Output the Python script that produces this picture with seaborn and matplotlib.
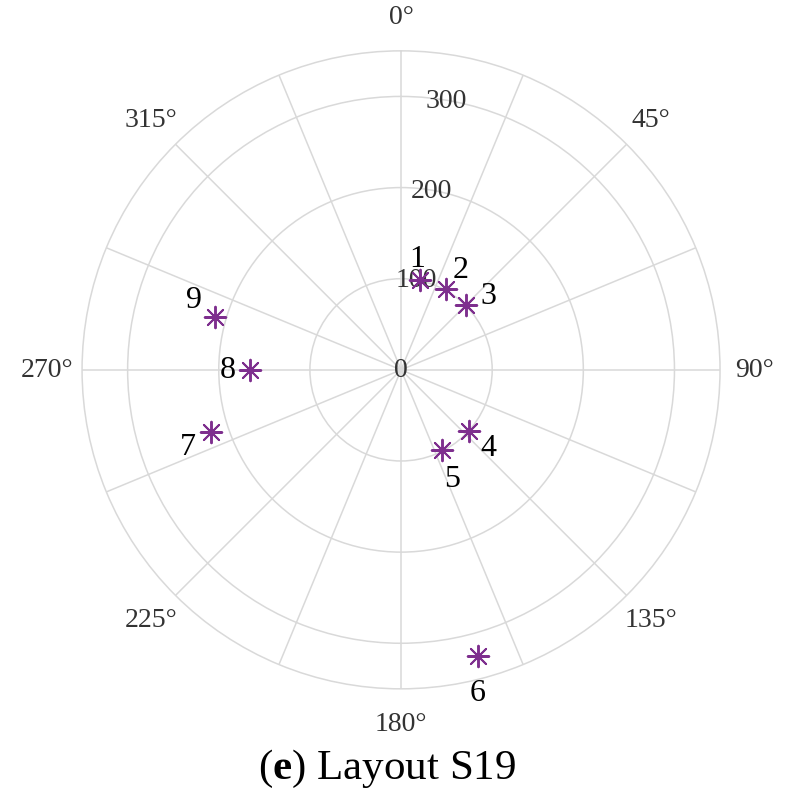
import numpy as np
import pandas as pd
import matplotlib
matplotlib.use("Agg")
import matplotlib.pyplot as plt
import seaborn as sns

# Point angles (deg, clockwise from north) and radii
labels = ["1", "2", "3", "4", "5", "6", "7", "8", "9"]
angles_deg = [12, 29, 45, 132, 153, 165, 252, 270, 286]
radii = [101, 101, 101, 100, 99, 325, 219, 166, 212]

r_ticks = [0, 100, 200, 300]
r_max = 350
theta_labels = ["0°", "45°", "90°", "135°", "180°", "225°", "270°", "315°"]

sns.set_theme(style="white")
plt.rcParams["font.family"] = ["Liberation Serif", "DejaVu Serif"]
plt.rcParams["mathtext.fontset"] = "custom"
plt.rcParams["mathtext.bf"] = "Liberation Serif:bold"
plt.rcParams["mathtext.rm"] = "Liberation Serif"

df = pd.DataFrame({"label": labels,
                   "theta": np.deg2rad(angles_deg),
                   "r": radii})

fig = plt.figure(figsize=(7.89, 8.04), dpi=100)
ax = fig.add_axes([0.104, 0.142, 0.8086, 0.7935], projection="polar")
ax.set_theta_zero_location("N")
ax.set_theta_direction(-1)

grid_c = "#d9d9d9"
sns.scatterplot(data=df, x="theta", y="r", ax=ax, marker=(8, 2, 0),
                s=240, color="#7E2F8E", linewidth=1.4, zorder=3)

# point labels
offsets = {"1": (-2, 15), "2": (11, 14), "3": (16, 7), "4": (14, -12),
           "5": (7, -20), "6": (0, -26), "7": (-17, -11), "8": (-16, 0),
           "9": (-15, 12)}
for _, row in df.iterrows():
    dx, dy = offsets[row["label"]]
    ax.annotate(row["label"], (row["theta"], row["r"]), xytext=(dx, dy),
                textcoords="offset points", ha="center", va="center",
                fontsize=23, color="black", zorder=4)

ax.set_xticks(np.deg2rad(np.arange(0, 360, 22.5)))
ax.set_xticklabels([theta_labels[i // 2] if i % 2 == 0 else "" for i in range(16)],
                   fontsize=20, color="#333333")
ax.set_ylim(0, r_max)
ax.set_yticks(r_ticks)
ax.set_yticklabels([str(t) for t in r_ticks], fontsize=20, color="#333333")
for t in ax.get_yticklabels():
    t.set_horizontalalignment("center")
    t.set_verticalalignment("center")
ax.set_rlabel_position(9.5)
ax.tick_params(axis="x", pad=12)
ax.grid(True, color=grid_c, linewidth=1.1)
ax.spines["polar"].set_color(grid_c)
ax.spines["polar"].set_linewidth(1.1)
ax.set_xlabel("")
ax.set_ylabel("")

fig.text(0.49, 0.044, r"($\mathbf{e}$) Layout S19", ha="center", va="center",
         fontsize=31, color="black")

fig.savefig("out.png", dpi=100)
